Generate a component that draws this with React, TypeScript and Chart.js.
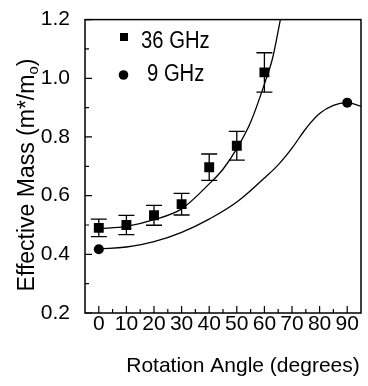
import React, { useEffect, useRef } from 'react';
import { Chart, registerables } from 'chart.js';

Chart.register(...registerables);

// measured points (36 GHz) with error bars
const angles36 = [0, 10, 20, 30, 40, 50, 60];
const mass36 = [0.49, 0.5, 0.533, 0.571, 0.697, 0.77, 1.02];
const err36 = [0.03, 0.033, 0.034, 0.037, 0.045, 0.049, 0.067];
// measured points (9 GHz)
const angles9 = [0, 90];
const mass9 = [0.417, 0.917];
// fitted curves
const fitAngles36 = [0, 10, 20, 30, 40, 45, 50, 55, 60, 63, 66];
const fitMass36 = [0.487, 0.495, 0.518, 0.555, 0.64, 0.69, 0.76, 0.85, 0.98, 1.07, 1.21];
const fitAngles9 = [0, 10, 20, 30, 40, 50, 60, 65, 70, 75, 80, 85, 90, 95];
const fitMass9 = [0.418, 0.425, 0.443, 0.475, 0.52, 0.578, 0.66, 0.705, 0.762, 0.828, 0.88, 0.908, 0.917, 0.905];
// axes
const xTicks = [0, 10, 20, 30, 40, 50, 60, 70, 80, 90];
const xMinor = [5, 15, 25, 35, 45, 55, 65, 75, 85];
const yTicks = [0.2, 0.4, 0.6, 0.8, 1.0, 1.2];
const yMinor = [0.3, 0.5, 0.7, 0.9, 1.1];
const legendLabels = ['36 GHz', '9 GHz'];
const xTitle = 'Rotation Angle (degrees)';
const yTitleMain = 'Effective Mass (m*/m';
const yTitleSub = 'o';
const yTitleEnd = ')';

const FONT = "'Liberation Sans', Arial, sans-serif";

const pts = (xs: number[], ys: number[]) => xs.map((v, i) => ({ x: v, y: ys[i] }));

const decor = {
  id: 'decor',
  beforeDatasetsDraw(chart: any) {
    const { ctx, scales } = chart;
    const x = scales.x, y = scales.y;
    ctx.save();
    ctx.strokeStyle = '#000';
    ctx.lineWidth = 1.3;
    angles36.forEach((ang, i) => {
      const px = x.getPixelForValue(ang);
      const top = y.getPixelForValue(mass36[i] + err36[i]);
      const bot = y.getPixelForValue(mass36[i] - err36[i]);
      ctx.beginPath();
      ctx.moveTo(px, top); ctx.lineTo(px, bot);
      ctx.moveTo(px - 8, top); ctx.lineTo(px + 8, top);
      ctx.moveTo(px - 8, bot); ctx.lineTo(px + 8, bot);
      ctx.stroke();
    });
    ctx.restore();
  },
  afterDraw(chart: any) {
    const { ctx, chartArea: a, scales } = chart;
    const x = scales.x, y = scales.y;
    ctx.save();
    ctx.strokeStyle = '#000';
    ctx.lineWidth = 1.5;
    ctx.strokeRect(a.left, a.top, a.right - a.left, a.bottom - a.top);
    ctx.lineWidth = 1.2;
    ctx.beginPath();
    xTicks.forEach(v => { const p = x.getPixelForValue(v); ctx.moveTo(p, a.bottom); ctx.lineTo(p, a.bottom - 7); });
    xMinor.forEach(v => { const p = x.getPixelForValue(v); ctx.moveTo(p, a.bottom); ctx.lineTo(p, a.bottom - 4); });
    yTicks.forEach(v => { const p = y.getPixelForValue(v); ctx.moveTo(a.left, p); ctx.lineTo(a.left + 7, p); });
    yMinor.forEach(v => { const p = y.getPixelForValue(v); ctx.moveTo(a.left, p); ctx.lineTo(a.left + 4, p); });
    ctx.stroke();

    // legend
    ctx.fillStyle = '#000';
    ctx.fillRect(120, 33, 8, 8);
    ctx.beginPath(); ctx.arc(123.5, 75, 4.8, 0, Math.PI * 2); ctx.fill();
    ctx.font = `23px ${FONT}`;
    ctx.textBaseline = 'alphabetic';
    ctx.textAlign = 'left';
    const legText = (t: string, lx: number, by: number) => {
      ctx.save(); ctx.translate(lx, by); ctx.scale(0.88, 1); ctx.fillText(t, 0, 0); ctx.restore();
    };
    legText(legendLabels[0], 141, 48);
    legText(legendLabels[1], 147, 80.5);

    // x title
    ctx.font = `21px ${FONT}`;
    ctx.textAlign = 'center';
    ctx.fillText(xTitle, 243, 372);

    // y title with subscript
    ctx.translate(34, 175);
    ctx.rotate(-Math.PI / 2);
    const f1 = `23px ${FONT}`, f2 = `15px ${FONT}`;
    ctx.font = f1; const w1 = ctx.measureText(yTitleMain).width;
    const w3 = ctx.measureText(yTitleEnd).width;
    ctx.font = f2; const w2 = ctx.measureText(yTitleSub).width;
    const total = w1 + w2 + w3;
    let cx = -total / 2;
    ctx.textAlign = 'left';
    ctx.font = f1; ctx.fillText(yTitleMain, cx, 0); cx += w1;
    ctx.font = f2; ctx.fillText(yTitleSub, cx, 4); cx += w2;
    ctx.font = f1; ctx.fillText(yTitleEnd, cx, 0);
    ctx.restore();
  },
};

export default function App() {
  const ref = useRef<HTMLCanvasElement | null>(null);
  useEffect(() => {
    if (!ref.current) return;
    const chart = new Chart(ref.current, {
      type: 'scatter',
      data: {
        datasets: [
          {
            label: '36 GHz fit', data: pts(fitAngles36, fitMass36), showLine: true,
            borderColor: '#000', borderWidth: 1.3, pointRadius: 0, cubicInterpolationMode: 'monotone', fill: false,
          },
          {
            label: '9 GHz fit', data: pts(fitAngles9, fitMass9), showLine: true,
            borderColor: '#000', borderWidth: 1.3, pointRadius: 0, tension: 0.4, fill: false,
          },
          {
            label: legendLabels[0], data: pts(angles36, mass36), pointStyle: 'rect', pointRadius: 7,
            backgroundColor: '#000', borderColor: '#000', borderWidth: 0,
          },
          {
            label: legendLabels[1], data: pts(angles9, mass9), pointStyle: 'circle', pointRadius: 5,
            backgroundColor: '#000', borderColor: '#000', borderWidth: 0, clip: false,
          },
        ],
      },
      options: {
        animation: false,
        responsive: false,
        devicePixelRatio: 1,
        layout: { padding: { top: 14, right: 1.5, left: 0, bottom: 0 } },
        plugins: { legend: { display: false }, tooltip: { enabled: false } },
        scales: {
          x: {
            type: 'linear', min: -5, max: 95,
            grid: { display: false }, border: { display: false },
            afterBuildTicks: (s: any) => { s.ticks = xTicks.map(v => ({ value: v })); },
            afterFit: (s: any) => { s.height = 73; },
            ticks: { color: '#000', font: { family: FONT, size: 21 }, padding: -9, maxRotation: 0, autoSkip: false },
          },
          y: {
            type: 'linear', min: 0.2, max: 1.2,
            grid: { display: false }, border: { display: false },
            afterBuildTicks: (s: any) => { s.ticks = yTicks.map(v => ({ value: v })); },
            afterFit: (s: any) => { s.width = 85; },
            ticks: { color: '#000', font: { family: FONT, size: 21 }, padding: 7, callback: (v: any) => Number(v).toFixed(1) },
          },
        },
      },
      plugins: [decor],
    } as any);
    return () => chart.destroy();
  }, []);
  return (
    <div style={{ position: 'fixed', left: 0, top: 0, width: 368, height: 386, background: '#fff' }}>
      <canvas ref={ref} width={368} height={386} />
    </div>
  );
}
